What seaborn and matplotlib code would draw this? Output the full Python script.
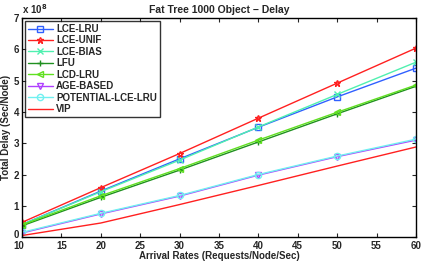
import numpy as np
import pandas as pd
import matplotlib
matplotlib.use("Agg")
import matplotlib.pyplot as plt
import matplotlib.transforms as mtransforms
import seaborn as sns

rates = [10, 20, 30, 40, 50, 60]
lce_lru = [0.40, 1.47, 2.50, 3.51, 4.48, 5.40]
lce_unif = [0.47, 1.58, 2.67, 3.80, 4.92, 6.04]
lce_bias = [0.40, 1.45, 2.46, 3.52, 4.56, 5.59]
lfu = [0.36, 1.27, 2.14, 3.04, 3.94, 4.82]
lcd_lru = [0.39, 1.32, 2.19, 3.10, 3.99, 4.86]
age_based = [0.13, 0.74, 1.31, 1.98, 2.57, 3.10]
potential = [0.15, 0.76, 1.33, 2.00, 2.59, 3.13]
vip = [0.05, 0.45, 1.04, 1.65, 2.27, 2.88]

names = ["LCE-LRU", "LCE-UNIF", "LCE-BIAS", "LFU", "LCD-LRU", "AGE-BASED",
         "POTENTIAL-LCE-LRU", "VIP"]
series = [lce_lru, lce_unif, lce_bias, lfu, lcd_lru, age_based, potential, vip]
colors = ["#3060ff", "#ff2020", "#50f0b0", "#209020", "#60e020", "#b040ff",
          "#70f0f0", "#ff2020"]
markers = ["s", "*", "x", "+", "<", "v", "o", None]

sns.set_style("ticks")
plt.rcParams["font.family"] = ["Liberation Sans", "DejaVu Sans"]
plt.rcParams["font.weight"] = "bold"

fig = plt.figure(figsize=(4.21, 2.62), dpi=100)
ax = fig.add_axes([0.052, 0.095, 0.936, 0.836])

for name, vals, c, m in zip(names, series, colors, markers):
    df = pd.DataFrame({"rate": rates, "delay": vals})
    sns.lineplot(data=df, x="rate", y="delay", ax=ax, color=c, marker=m,
                 markersize=4.5, markerfacecolor="none", markeredgecolor=c,
                 markeredgewidth=1.0, linewidth=1.0, label=name)

ax.set_xlim(10, 60)
ax.set_ylim(0, 7)
ax.set_xticks(np.arange(10, 61, 5))
ax.set_yticks(np.arange(0, 8, 1))
ax.tick_params(direction="in", top=True, right=True, labelsize=7, length=3,
               width=0.8)
ax.tick_params(axis="x", pad=3)
ax.tick_params(axis="y", pad=2)
for lab in ax.get_xticklabels() + ax.get_yticklabels():
    lab.set_fontweight("bold")
# corner labels: "0" sits a bit higher, "10" a bit to the left
first_x = ax.get_xticklabels()[0]
first_x.set_transform(first_x.get_transform() +
                      mtransforms.ScaledTranslation(-3 / 100, 0, fig.dpi_scale_trans))
first_y = ax.get_yticklabels()[0]
first_y.set_transform(first_y.get_transform() +
                      mtransforms.ScaledTranslation(0, 3 / 100, fig.dpi_scale_trans))
for sp in ax.spines.values():
    sp.set_linewidth(1.0)
    sp.set_color("black")

ax.set_xlabel("Arrival Rates (Requests/Node/Sec)", fontsize=7, fontweight="bold",
              labelpad=0)
ax.set_ylabel("Total Delay (Sec/Node)", fontsize=7, fontweight="bold", labelpad=2)
ax.set_title("Fat Tree 1000 Object \u2212 Delay", fontsize=7.5, fontweight="bold",
             pad=4)
ax.text(0.0, 1.01, "x 10$^8$", transform=ax.transAxes, fontsize=7,
        fontweight="bold", ha="left", va="bottom")

leg = ax.legend(loc="upper left", fontsize=7, frameon=True, fancybox=False,
                edgecolor="black", handlelength=2.6, handletextpad=0.3,
                labelspacing=0.15, borderpad=0.3, borderaxespad=0.3)
leg.get_frame().set_linewidth(1.0)
for t in leg.get_texts():
    t.set_fontweight("bold")

fig.savefig("out.png", dpi=100)
